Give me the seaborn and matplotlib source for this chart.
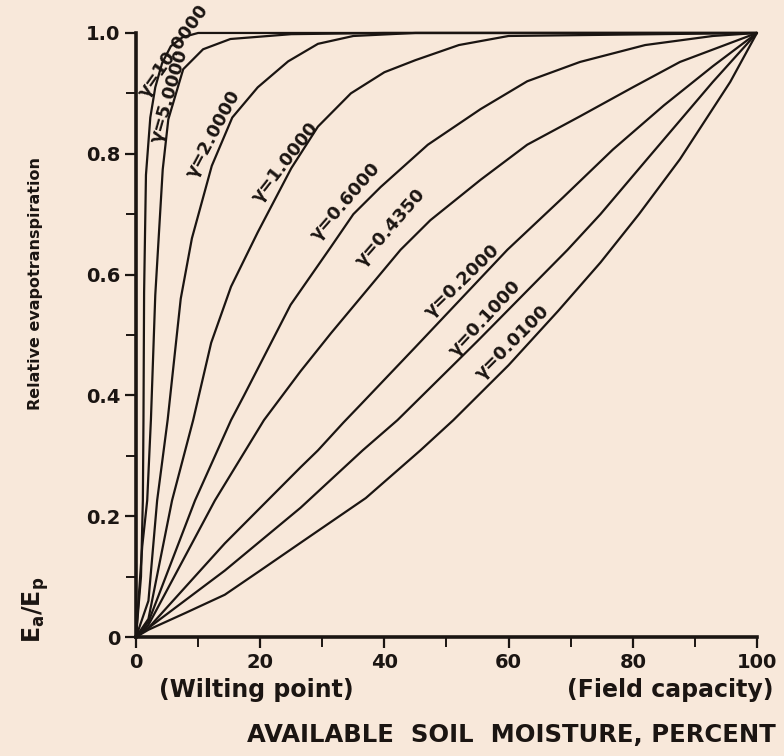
import pandas as pd
import matplotlib.pyplot as plt
import seaborn as sns

# Curves
# x = available soil moisture (%), y = Ea/Ep
gamma_names = ['10.0000', '5.0000', '2.0000', '1.0000', '0.6000',
               '0.4350', '0.2000', '0.1000', '0.0100']

x_g10 = [0, 0.8, 1.1, 1.2, 1.3, 1.6, 2.3, 3.1, 4.2, 5.6, 7.5, 10, 100]
y_g10 = [0, 0.10, 0.226, 0.36, 0.57, 0.765, 0.86, 0.91, 0.95, 0.978, 0.993, 1.0, 1.0]

x_g5 = [0, 1.0, 1.8, 2.4, 3.1, 4.3, 5.2, 7.6, 10.8, 15.2, 25, 40, 100]
y_g5 = [0, 0.15, 0.226, 0.36, 0.566, 0.774, 0.857, 0.94, 0.973, 0.99, 0.998, 1.0, 1.0]

x_g2 = [0, 2, 3.4, 5.1, 7.2, 9, 12.2, 15.5, 19.6, 24.5, 29.3, 35, 45, 100]
y_g2 = [0, 0.06, 0.226, 0.36, 0.56, 0.66, 0.78, 0.86, 0.91, 0.953, 0.982, 0.995, 1.0, 1.0]

x_g1 = [0, 2, 5.8, 9.2, 12.1, 15.3, 19.6, 25, 29.3, 34.6, 40, 45, 52, 60, 100]
y_g1 = [0, 0.03, 0.226, 0.359, 0.487, 0.58, 0.67, 0.776, 0.845, 0.90, 0.935, 0.955, 0.98, 0.995, 1.0]

x_g06 = [0, 2, 9.5, 15.3, 17.4, 24.9, 31.4, 35, 39.4, 47, 55.5, 63, 71.5, 82, 92.9, 100]
y_g06 = [0, 0.025, 0.226, 0.359, 0.40, 0.55, 0.646, 0.70, 0.745, 0.815, 0.874, 0.92, 0.952, 0.98, 0.995, 1.0]

x_g0435 = [0, 2, 12.7, 20.6, 26.5, 31.4, 42.6, 47.4, 55.5, 63, 71.5, 80, 87.6, 100]
y_g0435 = [0, 0.02, 0.226, 0.359, 0.44, 0.503, 0.641, 0.69, 0.757, 0.815, 0.862, 0.91, 0.952, 1.0]

x_g02 = [0, 2, 14.3, 26.5, 29.3, 33.4, 36.2, 45, 59.8, 68.8, 76.8, 85, 92.9, 100]
y_g02 = [0, 0.015, 0.155, 0.281, 0.309, 0.355, 0.385, 0.48, 0.641, 0.728, 0.807, 0.88, 0.945, 1.0]

x_g01 = [0, 2, 14.3, 26.5, 36.5, 42.1, 55, 69.5, 74.8, 82.3, 92.9, 100]
y_g01 = [0, 0.015, 0.11, 0.214, 0.309, 0.359, 0.49, 0.641, 0.70, 0.791, 0.919, 1.0]

x_g001 = [0, 2, 8, 14.3, 20, 26.5, 37, 45.8, 51.1, 60, 68, 74.8, 81, 87.6, 95.7, 100]
y_g001 = [0, 0.012, 0.04, 0.07, 0.11, 0.156, 0.23, 0.309, 0.359, 0.45, 0.54, 0.62, 0.70, 0.791, 0.919, 1.0]

curve_x = [x_g10, x_g5, x_g2, x_g1, x_g06, x_g0435, x_g02, x_g01, x_g001]
curve_y = [y_g10, y_g5, y_g2, y_g1, y_g06, y_g0435, y_g02, y_g01, y_g001]

# where each gamma label sits (data coords) and its angle on the page
label_x = [6.0, 5.3, 12.4, 24.0, 33.7, 41.0, 52.5, 56.2, 60.7]
label_y = [0.97, 0.895, 0.832, 0.786, 0.72, 0.678, 0.59, 0.528, 0.487]
label_rot = [55, 74, 62, 52, 49, 49, 44, 47, 45]

frames = []
for name, xs, ys in zip(gamma_names, curve_x, curve_y):
    frames.append(pd.DataFrame({'moisture': xs, 'ratio': ys, 'gamma': name}))
data = pd.concat(frames, ignore_index=True)

paper = '#f8e8da'
ink = '#1b1512'

sns.set_style('ticks')
plt.rcParams['font.family'] = ['DejaVu Sans']
plt.rcParams['mathtext.fontset'] = 'dejavusans'

fig = plt.figure(figsize=(7.84, 7.56), dpi=100)
fig.patch.set_facecolor(paper)
ax = fig.add_axes([0.1735, 0.1574, 0.792, 0.799])
ax.set_facecolor(paper)

sns.lineplot(data=data, x='moisture', y='ratio', units='gamma', estimator=None,
             color=ink, linewidth=1.6, ax=ax, legend=False)
for line in ax.lines:
    line.set_clip_on(False)

for name, lx, ly, rot in zip(gamma_names, label_x, label_y, label_rot):
    ax.text(lx, ly, 'γ=' + name, rotation=rot, rotation_mode='anchor',
            ha='center', va='center', fontsize=13, fontweight='bold', color=ink)

ax.set_xlim(0, 100)
ax.set_ylim(0, 1.0)
ax.set_xticks([0, 20, 40, 60, 80, 100])
ax.set_xticklabels(['0', '20', '40', '60', '80', '100'])
ax.set_xticks([10, 30, 50, 70, 90], minor=True)
ax.set_yticks([0, 0.2, 0.4, 0.6, 0.8, 1.0])
ax.set_yticklabels(['0', '0.2', '0.4', '0.6', '0.8', '1.0'])
ax.set_yticks([0.1, 0.3, 0.5, 0.7, 0.9], minor=True)
ax.tick_params(which='major', length=8, width=1.6, color=ink, labelcolor=ink,
               labelsize=14, direction='out')
ax.tick_params(which='minor', length=7, width=1.4, color=ink, direction='out')
for lab in ax.get_xticklabels() + ax.get_yticklabels():
    lab.set_fontweight('bold')

sns.despine(ax=ax)
for side in ['left', 'bottom']:
    ax.spines[side].set_linewidth(2.6)
    ax.spines[side].set_color(ink)

ax.set_xlabel('')
ax.set_ylabel('')

fig.text(0.045, 0.625, 'Relative evapotranspiration', rotation=90,
         ha='center', va='center', fontsize=11.5, fontweight='bold', color=ink)
fig.text(0.045, 0.193, r'$\mathbf{E_a/E_p}$', rotation=90,
         ha='center', va='center', fontsize=17, color=ink)

fig.text(0.327, 0.087, '(Wilting point)', ha='center', va='center',
         fontsize=17, fontweight='bold', color=ink)
fig.text(0.855, 0.087, '(Field capacity)', ha='center', va='center',
         fontsize=17, fontweight='bold', color=ink)
fig.text(0.652, 0.028, 'AVAILABLE  SOIL  MOISTURE, PERCENT', ha='center', va='center',
         fontsize=17.5, fontweight='bold', color=ink)

fig.savefig('out.png', dpi=100, facecolor=paper)
